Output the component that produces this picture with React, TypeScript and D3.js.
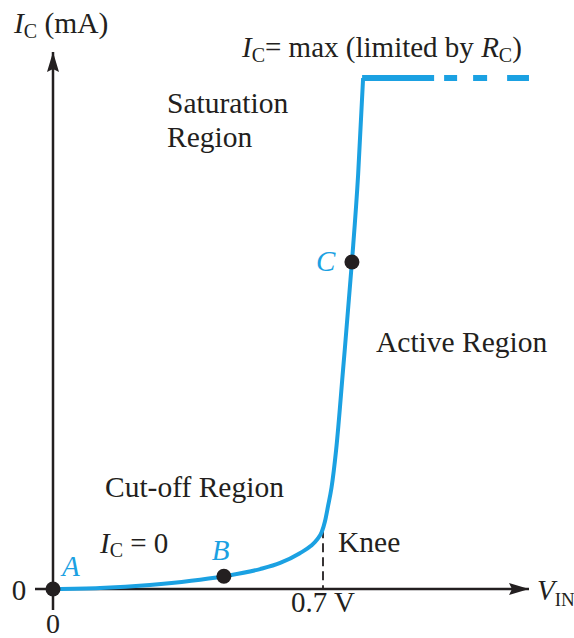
import React from "react";
import * as d3 from "d3";

// Transfer characteristic of a BJT switch: collector current vs. input voltage
const riseV = [0, 0.122, 0.251, 0.443, 0.537, 0.589, 0.640, 0.668, 0.686, 0.697, 0.705, 0.713, 0.722, 0.734, 0.752, 0.775, 0.791, 0.804];
const riseIc = [0, 0.02, 0.08, 0.25, 0.39, 0.51, 0.70, 0.84, 0.98, 1.12, 1.32, 1.62, 1.98, 2.72, 4.29, 6.40, 8.10, 10];
const capV = [0.804, 1.234];
const kneeV = 0.7;
const kneeTopIc = 1.17;
const markV = [0, 0.443, 0.775];
const markIc = [0, 0.25, 6.4];
const markNames = ["A", "B", "C"];

const W = 574;
const H = 638;
const BLUE = "#1ba1e2";
const INK = "#231f20";
const FONT = '"Liberation Serif", "DejaVu Serif", serif';
const txt: React.CSSProperties = { fontFamily: FONT };

export default function App() {
  const x = d3.scaleLinear().domain([0, 0.7]).range([53, 323]);
  const y = d3.scaleLinear().domain([0, 10]).range([589, 78]);

  const pts: [number, number][] = riseV.map((v, i) => [v, riseIc[i]]);
  const rise = d3
    .line<[number, number]>()
    .x((d) => x(d[0]))
    .y((d) => y(d[1]))
    .curve(d3.curveMonotoneX)(pts) as string;

  const labelOffsets = [
    { dx: 9, dy: -13 },
    { dx: -12, dy: -16 },
    { dx: -36, dy: 9 },
  ];

  return (
    <svg width={W} height={H} style={{ position: "absolute", left: 0, top: 0 }}>
      <defs>
        <marker id="arr" viewBox="0 0 20 12" refX="20" refY="6" markerWidth="20" markerHeight="12" markerUnits="userSpaceOnUse" orient="auto">
          <path d="M0,0 L20,6 L0,12 L3,6 Z" fill={INK} />
        </marker>
      </defs>

      {/* axes */}
      <line x1={x(0)} y1={610} x2={x(0)} y2={52} stroke={INK} strokeWidth={2.5} markerEnd="url(#arr)" />
      <line x1={35} y1={y(0)} x2={529} y2={y(0)} stroke={INK} strokeWidth={2.5} markerEnd="url(#arr)" />

      {/* knee marker */}
      <line x1={x(kneeV)} y1={y(kneeTopIc)} x2={x(kneeV)} y2={y(0)} stroke={INK} strokeWidth={1.8} strokeDasharray="9,5" />

      {/* characteristic */}
      <path d={rise} fill="none" stroke={BLUE} strokeWidth={4} strokeLinejoin="round" />
      <line
        x1={x(capV[0]) - 1}
        y1={y(10)}
        x2={x(capV[1])}
        y2={y(10)}
        stroke={BLUE}
        strokeWidth={6}
        strokeDasharray="72,10,13,16,14,20,22"
      />

      {/* operating points */}
      {markV.map((v, i) => (
        <g key={markNames[i]}>
          <circle cx={x(v)} cy={y(markIc[i])} r={7.5} fill={INK} />
          <text
            x={x(v) + labelOffsets[i].dx}
            y={y(markIc[i]) + labelOffsets[i].dy}
            fill={BLUE}
            fontSize={29}
            fontStyle="italic"
            style={txt}
          >
            {markNames[i]}
          </text>
        </g>
      ))}

      {/* axis titles */}
      <text x={14} y={33} fontSize={29.5} fill={INK} style={txt}>
        <tspan fontStyle="italic">I</tspan>
        <tspan fontSize={20} dy={5}>C</tspan>
        <tspan dy={-5}> (mA)</tspan>
      </text>
      <text x={537} y={600} fontSize={29} fill={INK} style={txt}>
        <tspan fontStyle="italic">V</tspan>
        <tspan fontSize={19} dy={6}>IN</tspan>
      </text>

      {/* tick labels */}
      <text x={19} y={600} fontSize={29} fill={INK} textAnchor="middle" style={txt}>0</text>
      <text x={x(0)} y={633} fontSize={28} fill={INK} textAnchor="middle" style={txt}>0</text>
      <text x={x(kneeV)} y={612} fontSize={29} fill={INK} textAnchor="middle" style={txt}>0.7 V</text>

      {/* annotations */}
      <text x={242} y={57} fontSize={29} fill={INK} style={txt}>
        <tspan fontStyle="italic">I</tspan>
        <tspan fontSize={20} dy={5}>C</tspan>
        <tspan dy={-5}>= max (limited by </tspan>
        <tspan fontStyle="italic">R</tspan>
        <tspan fontSize={20} dy={5}>C</tspan>
        <tspan dy={-5}>)</tspan>
      </text>
      <text x={167} y={113} fontSize={29.5} fill={INK} style={txt}>Saturation</text>
      <text x={167} y={147} fontSize={29.5} fill={INK} style={txt}>Region</text>
      <text x={376} y={352} fontSize={29.5} fill={INK} style={txt}>Active Region</text>
      <text x={105} y={497} fontSize={29.5} fill={INK} style={txt}>Cut-off Region</text>
      <text x={100} y={553} fontSize={29} fill={INK} style={txt}>
        <tspan fontStyle="italic">I</tspan>
        <tspan fontSize={20} dy={4}>C</tspan>
        <tspan dy={-4}> = 0</tspan>
      </text>
      <text x={338} y={552} fontSize={29.5} fill={INK} style={txt}>Knee</text>
    </svg>
  );
}
